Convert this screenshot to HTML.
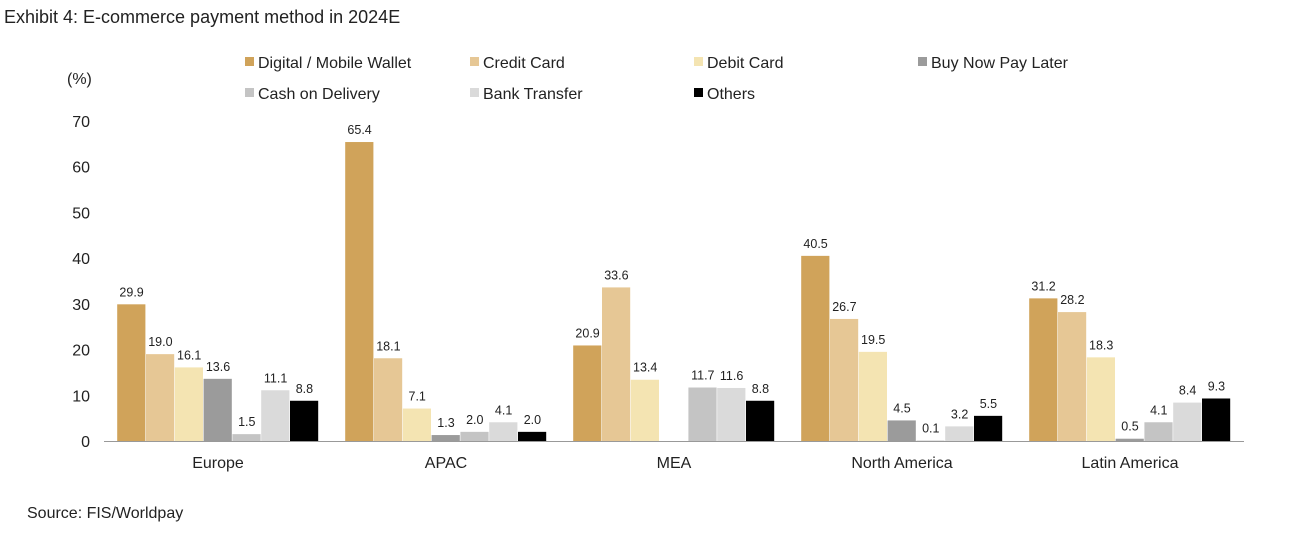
<!DOCTYPE html>
<html><head><meta charset="utf-8"><style>
body{margin:0;background:#fff;font-family:"Liberation Sans",sans-serif;}
svg text{font-family:"Liberation Sans",sans-serif;fill:#222;}
</style></head><body>
<svg width="1291" height="533" xmlns="http://www.w3.org/2000/svg">
<text x="4" y="23" font-size="18">Exhibit 4: E-commerce payment method in 2024E</text>
<text x="67" y="84" font-size="16">(%)</text>
<text x="27" y="518" font-size="16">Source: FIS/Worldpay</text>
<g id="legend"></g>
<g id="axes"></g>
<g id="bars"></g>
</svg>
<script>
const categories=["Europe","APAC","MEA","North America","Latin America"];
const seriesNames=["Digital / Mobile Wallet","Credit Card","Debit Card","Buy Now Pay Later","Cash on Delivery","Bank Transfer","Others"];
const digital=[29.9,65.4,20.9,40.5,31.2];
const credit=[19.0,18.1,33.6,26.7,28.2];
const debit=[16.1,7.1,13.4,19.5,18.3];
const bnpl=[13.6,1.3,null,4.5,0.5];
const cod=[1.5,2.0,11.7,0.1,4.1];
const bank=[11.1,4.1,11.6,3.2,8.4];
const others=[8.8,2.0,8.8,5.5,9.3];
const yTicks=[0,10,20,30,40,50,60,70];
const colors=["#D0A35A","#E6C795","#F4E4B2","#9B9B9B","#C4C4C4","#DADADA","#000000"];
const series=[digital,credit,debit,bnpl,cod,bank,others];
const NS="http://www.w3.org/2000/svg";
const y0=441,yTop=121,x0=104,x1=1244,gw=(x1-x0)/categories.length,bw=28.8;
const y=v=>y0-(v/70)*(y0-yTop);
function mk(t,a,p){const e=document.createElementNS(NS,t);for(const k in a)e.setAttribute(k,a[k]);p.appendChild(e);return e;}
const ax=document.getElementById('axes'),bg=document.getElementById('bars'),lg=document.getElementById('legend');
yTicks.forEach(t=>{const e=mk('text',{x:90,y:y(t)+6,'text-anchor':'end','font-size':16},ax);e.textContent=t;

});
const xl=mk('line',{x1:x0,x2:x1,y1:y0+0.5,y2:y0+0.5,stroke:'#999','stroke-width':1},ax);


categories.forEach((c,i)=>{const cx=x0+gw*(i+0.5);
const e=mk('text',{x:cx,y:468,'text-anchor':'middle','font-size':16},ax);e.textContent=c;


series.forEach((s,j)=>{const v=s[i];if(v===null)return;
const bx=cx-3.5*bw+j*bw;
const r=mk('rect',{x:bx,y:y(v),width:bw-0.6,height:y0-y(v),fill:colors[j]},bg);


const l=mk('text',{x:bx+bw/2,y:y(v)-8,'text-anchor':'middle','font-size':12.5},bg);l.textContent=v.toFixed(1);

});});
const lx=[245,470,694,918];
seriesNames.forEach((n,j)=>{const X=lx[j%4],Y=j<4?62:93;
const g=mk('g',{},lg);


mk('rect',{x:X,y:Y-5,width:9,height:9,fill:colors[j]},g);
const t=mk('text',{x:X+13,y:Y+6,'font-size':16},g);t.textContent=n;});
</script>
</body></html>
